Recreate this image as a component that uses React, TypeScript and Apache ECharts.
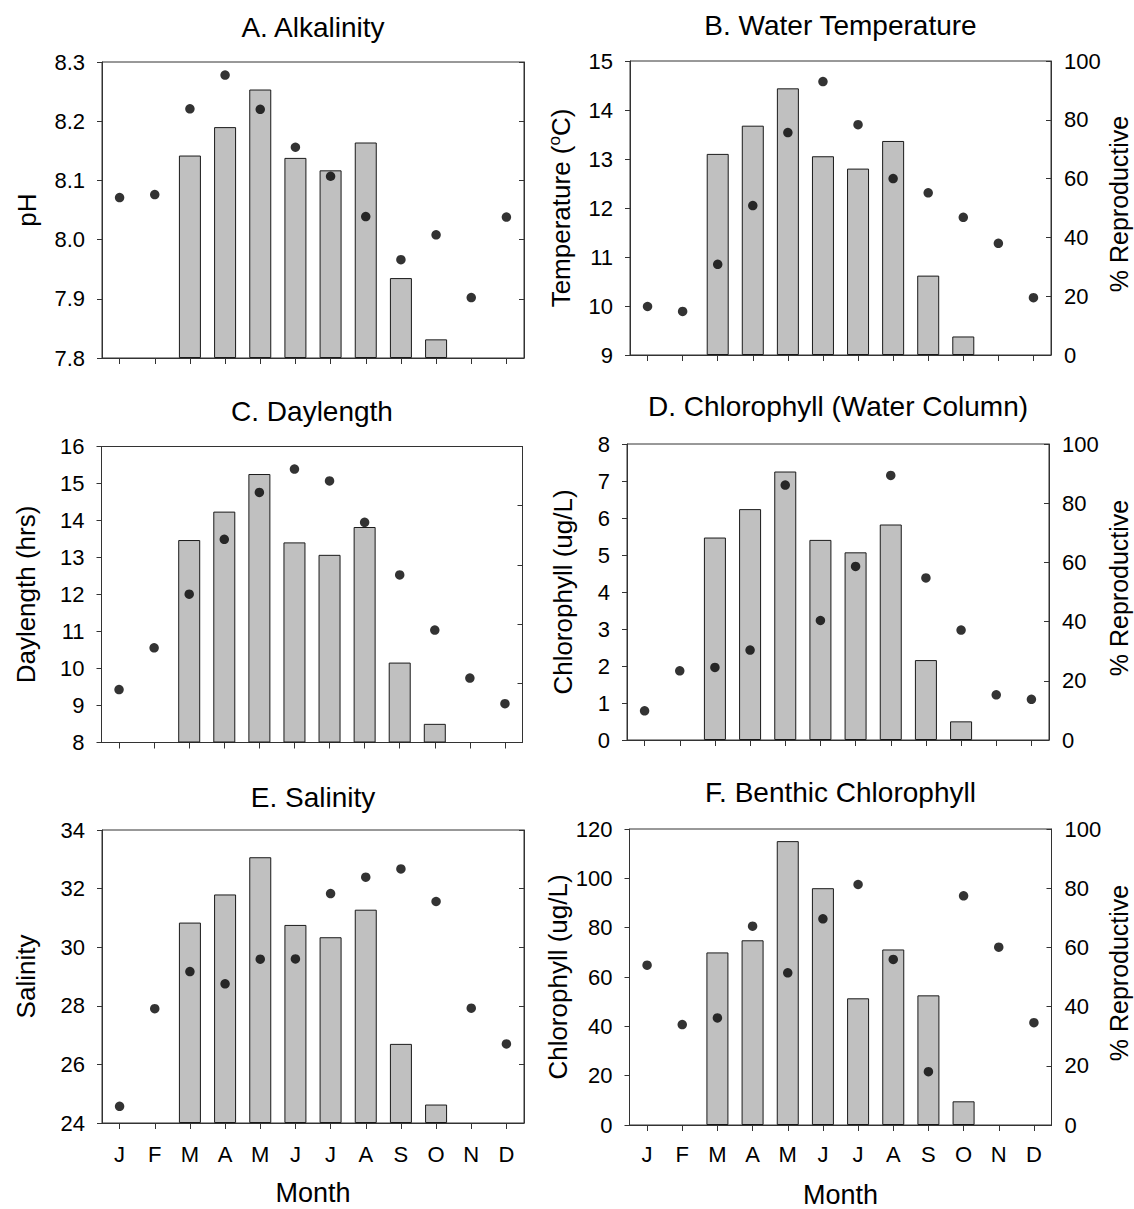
import React, { useEffect, useRef } from "react";
import * as echarts from "echarts";

// ---- data ----
const months = ["J", "F", "M", "A", "M", "J", "J", "A", "S", "O", "N", "D"];
// % reproductive (bars, right axis 0-100) – panels A–E
const reproductive = [0, 0, 68.4, 78.0, 90.7, 67.6, 63.4, 72.8, 27.0, 6.3, 0, 0];
// bars of panel F (right axis 0-100)
const reproductiveBenthic = [0, 0, 58.3, 62.4, 95.9, 80.0, 42.8, 59.3, 43.8, 8.0, 0, 0];
// environmental variables (dots, left axis)
const ph = [8.071, 8.076, 8.221, 8.278, 8.22, 8.156, 8.107, 8.039, 7.966, 8.008, 7.902, 8.038];
const waterTemp = [9.99, 9.89, 10.85, 12.05, 13.54, 14.58, 13.7, 12.6, 12.31, 11.81, 11.28, 10.17];
const daylength = [9.43, 10.56, 12.01, 13.49, 14.76, 15.39, 15.07, 13.95, 12.53, 11.04, 9.74, 9.05];
const chlWater = [0.79, 1.87, 1.96, 2.43, 6.89, 3.23, 4.69, 7.15, 4.38, 2.97, 1.22, 1.1];
const salinity = [24.57, 27.9, 29.17, 28.75, 29.59, 29.6, 31.83, 32.39, 32.67, 31.56, 27.92, 26.7];
const chlBenthic = [64.8, 40.7, 43.4, 80.6, 61.7, 83.6, 97.5, 67.1, 21.6, 92.9, 72.1, 41.5];

const titles = [
  "A. Alkalinity",
  "B. Water Temperature",
  "C. Daylength",
  "D. Chlorophyll (Water Column)",
  "E. Salinity",
  "F. Benthic Chlorophyll",
];
const leftNames = ["pH", "Temperature ({sup|o}C)", "Daylength (hrs)", "Chlorophyll (ug/L)", "Salinity", "Chlorophyll (ug/L)"];
const rightName = "% Reproductive";
const xName = "Month";

const FONT = "'Liberation Sans', Arial, Helvetica, sans-serif";
const AX = "#333";

type Panel = {
  grid: { left: number; top: number; width: number; height: number };
  dots: number[];
  bars: number[];
  min: number;
  max: number;
  interval: number;
  digits: number;
  titleY: number;
  nameX: number;
  rightLabels: boolean;
  monthLabels: boolean;
  monthMargin: number;
  monthNameY: number;
};

const panels: Panel[] = [
  { grid: { left: 102, top: 62, width: 422, height: 296 }, dots: ph, bars: reproductive, min: 7.8, max: 8.3, interval: 0.1, digits: 1, titleY: 27, nameX: 27, rightLabels: false, monthLabels: false, monthMargin: 20, monthNameY: 0 },
  { grid: { left: 630, top: 61, width: 421, height: 294 }, dots: waterTemp, bars: reproductive, min: 9, max: 15, interval: 1, digits: 0, titleY: 25, nameX: 561, rightLabels: true, monthLabels: false, monthMargin: 20, monthNameY: 0 },
  { grid: { left: 101.5, top: 446.5, width: 421, height: 296 }, dots: daylength, bars: reproductive, min: 8, max: 16, interval: 1, digits: 0, titleY: 411, nameX: 26, rightLabels: false, monthLabels: false, monthMargin: 20, monthNameY: 0 },
  { grid: { left: 627, top: 444, width: 422, height: 296 }, dots: chlWater, bars: reproductive, min: 0, max: 8, interval: 1, digits: 0, titleY: 406, nameX: 563, rightLabels: true, monthLabels: false, monthMargin: 20, monthNameY: 0 },
  { grid: { left: 102, top: 830, width: 422, height: 293 }, dots: salinity, bars: reproductive, min: 24, max: 34, interval: 2, digits: 0, titleY: 797, nameX: 26, rightLabels: false, monthLabels: true, monthMargin: 20, monthNameY: 1193 },
  { grid: { left: 629.5, top: 829, width: 422, height: 296 }, dots: chlBenthic, bars: reproductiveBenthic, min: 0, max: 120, interval: 20, digits: 0, titleY: 792, nameX: 558, rightLabels: true, monthLabels: true, monthMargin: 18, monthNameY: 1195 },
];

function buildOption() {
  const grid: any[] = [];
  const xAxis: any[] = [];
  const yAxis: any[] = [];
  const series: any[] = [];
  const graphic: any[] = [];

  panels.forEach((p, i) => {
    const g = p.grid;
    const cx = g.left + g.width / 2;
    const cy = g.top + g.height / 2;
    grid.push({ ...g, show: true, borderColor: AX, borderWidth: 1, backgroundColor: "transparent", containLabel: false });
    xAxis.push({
      type: "category",
      gridIndex: i,
      data: months,
      boundaryGap: true,
      axisLine: { show: true, lineStyle: { color: AX, width: 1 } },
      axisTick: { show: true, alignWithLabel: true, interval: 0, length: 6, lineStyle: { color: AX } },
      axisLabel: { show: p.monthLabels, interval: 0, margin: p.monthMargin, fontSize: 22, color: "#000", fontFamily: FONT },
      splitLine: { show: false },
    });
    yAxis.push({
      type: "value",
      gridIndex: i,
      position: "left",
      min: p.min,
      max: p.max,
      interval: p.interval,
      axisLine: { show: true, lineStyle: { color: AX, width: 1 } },
      axisTick: { show: true, inside: false, length: 5, lineStyle: { color: AX } },
      axisLabel: {
        fontSize: 22,
        margin: 17,
        color: "#000",
        fontFamily: FONT,
        formatter: (v: number) => v.toFixed(p.digits),
      },
      splitLine: { show: false },
    });
    yAxis.push({
      type: "value",
      gridIndex: i,
      position: "right",
      min: 0,
      max: 100,
      interval: 20,
      axisLine: { show: true, lineStyle: { color: AX, width: 1 } },
      axisTick: { show: true, inside: true, length: 5, lineStyle: { color: AX } },
      axisLabel: { show: p.rightLabels, fontSize: 22, margin: 13, color: "#000", fontFamily: FONT },
      splitLine: { show: false },
    });
    series.push({
      type: "bar",
      xAxisIndex: i,
      yAxisIndex: 2 * i + 1,
      data: p.bars.map((v) => (v === 0 ? "-" : v)),
      barWidth: 22,
      itemStyle: { color: "#c0c0c0", borderColor: "#1a1a1a", borderWidth: 1 },
      z: 2,
    });
    series.push({
      type: "scatter",
      xAxisIndex: i,
      yAxisIndex: 2 * i,
      data: p.dots,
      symbol: "circle",
      symbolSize: 9.5,
      itemStyle: { color: "#000" },
      z: 3,
    });

    graphic.push({
      type: "text",
      x: cx,
      y: p.titleY,
      style: { text: titles[i], fontSize: 28, fontFamily: FONT, fill: "#000", textAlign: "center", textVerticalAlign: "middle" },
    });
    graphic.push({
      type: "text",
      x: p.nameX,
      y: cy,
      rotation: Math.PI / 2,
      style: {
        text: leftNames[i],
        fontSize: 26,
        fontFamily: FONT,
        fill: "#000",
        textAlign: "center",
        textVerticalAlign: "middle",
        rich: { sup: { fontSize: 17, fontFamily: FONT, fill: "#000", padding: [0, 0, 14, 0] } },
      },
    });
    if (p.rightLabels) {
      graphic.push({
        type: "text",
        x: 1119,
        y: cy - 4,
        rotation: Math.PI / 2,
        style: { text: rightName, fontSize: 25, fontFamily: FONT, fill: "#000", textAlign: "center", textVerticalAlign: "middle" },
      });
    }
    if (p.monthLabels) {
      graphic.push({
        type: "text",
        x: cx,
        y: p.monthNameY,
        style: { text: xName, fontSize: 27, fontFamily: FONT, fill: "#000", textAlign: "center", textVerticalAlign: "middle" },
      });
    }
  });

  return {
    animation: false,
    backgroundColor: "#fff",
    textStyle: { fontFamily: FONT },
    grid,
    xAxis,
    yAxis,
    series,
    graphic,
  };
}

export default function App() {
  const ref = useRef<HTMLDivElement>(null);
  useEffect(() => {
    if (!ref.current) return;
    const chart = echarts.init(ref.current, undefined, { renderer: "svg" });
    chart.setOption(buildOption() as any);
    return () => chart.dispose();
  }, []);
  return (
    <div
      ref={ref}
      style={{ position: "absolute", left: 0, top: 0, width: 1134, height: 1209, background: "#fff" }}
    />
  );
}
